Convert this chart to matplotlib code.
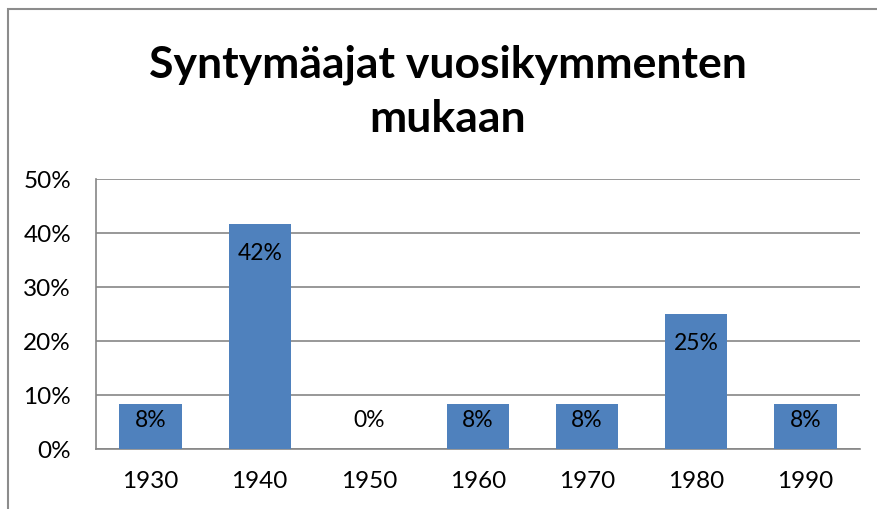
import matplotlib.pyplot as plt
from matplotlib.patches import Rectangle
from matplotlib.ticker import PercentFormatter

# data
decades = ["1930", "1940", "1950", "1960", "1970", "1980", "1990"]
shares = [8.33, 41.67, 0.0, 8.33, 8.33, 25.0, 8.33]
labels = ["8%", "42%", "0%", "8%", "8%", "25%", "8%"]
yticks = [0, 10, 20, 30, 40, 50]

plt.rcParams['font.family'] = ['Lato', 'DejaVu Sans']
W, H = 877, 509
fig = plt.figure(figsize=(W / 100, H / 100), dpi=100)

# outer chart border (runs off the right and bottom edges)
fig.patches.append(Rectangle((8 / W, -0.1), 1.2, 1 - 9 / H + 0.1, transform=fig.transFigure,
                             fill=False, edgecolor='#8c8c8c', linewidth=1.5))

ax = fig.add_axes([96 / W, 1 - 449 / H, (860 - 96) / W, (449 - 179) / H])
x = range(len(decades))
ax.bar(x, shares, width=0.57, color='#4f81bd', zorder=3)

# labels sit inside the bar top, but never lower than a fixed height above the base
for i, (v, lab) in enumerate(zip(shares, labels)):
    y = max(v - 5.4, 5.2)
    ax.text(i, y, lab, ha='center', va='center', fontsize=16.5, color='black', zorder=4)

ax.set_xlim(-0.5, len(decades) - 0.5)
ax.set_ylim(0, 50)
ax.set_yticks(yticks)
ax.yaxis.set_major_formatter(PercentFormatter(decimals=0))
ax.set_xticks(list(x))
ax.set_xticklabels(decades)
ax.tick_params(axis='both', length=0, labelsize=17.5)
ax.tick_params(axis='y', pad=18)
ax.tick_params(axis='x', pad=16)
ax.grid(axis='y', color='#868686', linewidth=1.2, zorder=1)
for s in ['top', 'right']:
    ax.spines[s].set_visible(False)
ax.spines['left'].set_color('#868686')
ax.spines['bottom'].set_color('#868686')
ax.spines['left'].set_linewidth(1.2)
ax.spines['bottom'].set_linewidth(1.2)

fig.text(448 / W, 1 - 92 / H, "Syntymäajat vuosikymmenten\nmukaan", ha='center', va='center',
         fontsize=32, fontweight='bold', linespacing=1.42)

fig.savefig("out.png", dpi=100)
